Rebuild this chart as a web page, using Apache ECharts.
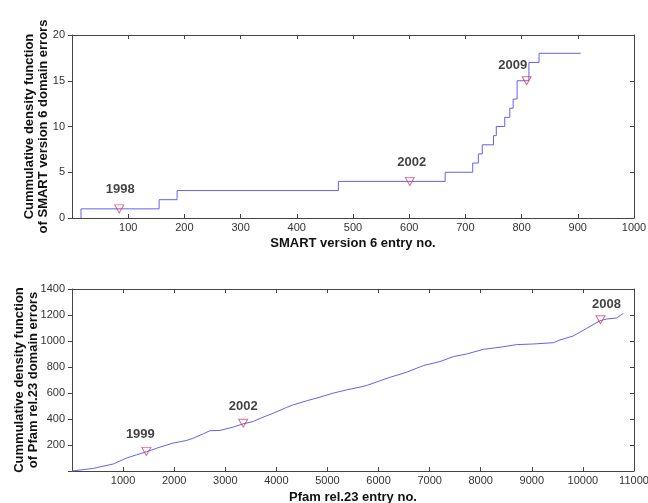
<!DOCTYPE html>
<html><head><meta charset="utf-8">
<script src="https://cdn.jsdelivr.net/npm/echarts@6/dist/echarts.min.js"></script>
<style>html,body{margin:0;padding:0;background:#fff}#c{width:648px;height:503px}</style>
</head><body><div id="c"></div>
<script>
// Top panel: SMART version 6
const smartEntry  = [16,16,155,187,474,664,713,723,730,750,755,770,779,785,792,792,813,813,831,905];
const smartErrors = [0,1,2,3,4,5,6,7,8,9,10,11,12,13,14,15,16,17,18,18];
const smartMarkEntry = [84,601,809];
const smartMarkValue = [1,4,15];
const smartMarkYear  = ['1998','2002','2009'];
const smartXTicks = [0,100,200,300,400,500,600,700,800,900,1000];
const smartYTicks = [0,5,10,15,20];

// Bottom panel: Pfam rel.23
const pfamEntry  = [0,417,809,1070,1265,1461,1722,1983,2244,2374,2570,2700,2896,3157,3353,3548,3679,3940,4201,4331,4592,4853,5114,5375,5636,5768,6225,6551,6877,7203,7464,7725,8051,8377,8703,9029,9421,9551,9812,10073,10334,10465,10660,10791];
const pfamErrors = [0,20,54,100,125,148,184,215,235,253,286,310,312,338,363,381,404,445,489,509,540,568,599,624,645,658,721,760,811,842,880,900,936,952,972,977,987,1008,1039,1097,1156,1169,1177,1212];
const pfamMarkEntry = [1455,3350,10345];
const pfamMarkValue = [151,368,1163];
const pfamMarkYear  = ['1999','2002','2008'];
const pfamXTicks = [0,1000,2000,3000,4000,5000,6000,7000,8000,9000,10000,11000];
const pfamYTicks = [0,200,400,600,800,1000,1200,1400];

const FONT = 'Liberation Sans, Arial, sans-serif';
const axisCol = '#444';
const lineCol = '#6262f0';
const markCol = '#e0405a';

function xAx(grid, ticks, pos, showLabel, name, nameGap) {
  return {
    type:'value', gridIndex:grid, position:pos,
    min:ticks[0], max:ticks[ticks.length-1], interval:ticks[1]-ticks[0],
    axisLine:{show:true,onZero:false,lineStyle:{color:axisCol,width:1}},
    axisTick:{show:true,inside:true,length:4,lineStyle:{color:axisCol}},
    axisLabel:{show:showLabel,color:'#333',fontSize:11,fontFamily:FONT,margin:4,
      formatter:v=>v===0?'':String(v)},
    splitLine:{show:false},
    name:name||'', nameLocation:'middle', nameGap:nameGap||0, nameMoveOverlap:false,
    nameTextStyle:{color:'#111',fontSize:13,fontWeight:'bold',fontFamily:FONT}
  };
}
function yAx(grid, ticks, pos, showLabel, name, hideZero, nameGap) {
  const left = pos === 'left';
  return {
    type:'value', gridIndex:grid, position:pos,
    min:ticks[0], max:ticks[ticks.length-1], interval:ticks[1]-ticks[0],
    axisLine:{show:true,onZero:false,lineStyle:{color:axisCol,width:1}},
    axisTick:{show:true,inside:!left,length:4,lineStyle:{color:axisCol}},
    axisLabel:{show:showLabel,color:'#333',fontSize:11,fontFamily:FONT,margin:7,
      formatter:v=>(hideZero&&v===0)?'':String(v)},
    splitLine:{show:false},
    name:name||'', nameLocation:'middle', nameGap:nameGap||0, nameRotate:90, nameMoveOverlap:false,
    nameTextStyle:{color:'#111',fontSize:13,fontWeight:'bold',fontFamily:FONT,lineHeight:14}
  };
}
function markData(xs, ys, offs) {
  return xs.map((x,i)=>({value:[x,ys[i]], label:{offset:offs[i]}}));
}

const option = {
  animation:false,
  backgroundColor:'#fff',
  grid:[
    {left:72,right:14,top:35,bottom:285,outerBoundsMode:'none',containLabel:false},
    {left:72,right:14,top:289,bottom:32,outerBoundsMode:'none',containLabel:false}
  ],
  xAxis:[
    xAx(0, smartXTicks, 'bottom', true, 'SMART version 6 entry no.', 19),
    xAx(0, smartXTicks, 'top', false),
    xAx(1, pfamXTicks, 'bottom', true, 'Pfam rel.23 entry no.', 20),
    xAx(1, pfamXTicks, 'top', false)
  ],
  yAxis:[
    yAx(0, smartYTicks, 'left', true, 'Cummulative density function\nof SMART version 6 domain errors', false, 22),
    yAx(0, smartYTicks, 'right', false),
    yAx(1, pfamYTicks, 'left', true, 'Cummulative density function\nof Pfam rel.23 domain errors', true, 32),
    yAx(1, pfamYTicks, 'right', false)
  ],
  series:[
    {type:'line', xAxisIndex:0, yAxisIndex:0, step:'end', showSymbol:false,
     lineStyle:{color:lineCol,width:1}, data:smartEntry.map((x,i)=>[x,smartErrors[i]])},
    {type:'scatter', xAxisIndex:0, yAxisIndex:0, symbol:'triangle', symbolRotate:180, symbolSize:[9,8], z:5,
     itemStyle:{color:'rgba(0,0,0,0)',borderColor:markCol,borderWidth:1},
     label:{show:true,position:'top',distance:8,color:'#111',fontSize:13,fontWeight:'bold',fontFamily:FONT,
       formatter:p=>smartMarkYear[p.dataIndex]},
     data:markData(smartMarkEntry, smartMarkValue, [[1,0],[2,0],[-14,4]])},
    {type:'line', xAxisIndex:2, yAxisIndex:2, showSymbol:false, smooth:false,
     lineStyle:{color:lineCol,width:1}, data:pfamEntry.map((x,i)=>[x,pfamErrors[i]])},
    {type:'scatter', xAxisIndex:2, yAxisIndex:2, symbol:'triangle', symbolRotate:180, symbolSize:[9,8], z:5,
     itemStyle:{color:'rgba(0,0,0,0)',borderColor:markCol,borderWidth:1},
     label:{show:true,position:'top',distance:8,color:'#111',fontSize:13,fontWeight:'bold',fontFamily:FONT,
       formatter:p=>pfamMarkYear[p.dataIndex]},
     data:markData(pfamMarkEntry, pfamMarkValue, [[-6,2],[0,2],[6,4]])}
  ]
};
const chart = echarts.init(document.getElementById('c'), null, {renderer:'canvas'});
chart.setOption(option);
</script></body></html>
